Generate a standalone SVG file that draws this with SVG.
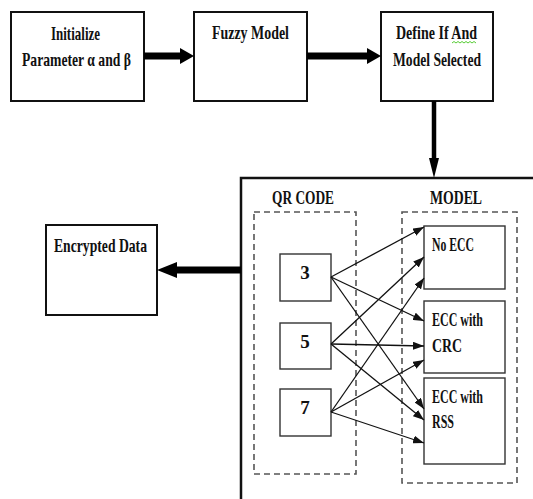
<svg xmlns="http://www.w3.org/2000/svg" width="533" height="499" viewBox="0 0 533 499">
<style>
text{font-family:"Liberation Serif","Times New Roman",serif;font-weight:bold;font-size:19px;fill:#111;lengthAdjust:spacingAndGlyphs}
.box{fill:#fff;stroke:#111;stroke-width:2}
.sbox{fill:#fff;stroke:#333;stroke-width:1.4}
.dash{fill:none;stroke:#555;stroke-width:1.6;stroke-dasharray:6 4}
.thin{fill:none;stroke:#111;stroke-width:1.3;marker-end:url(#ah)}
.thick{stroke:#000;stroke-width:7}
.head{fill:#000}
.mid{text-anchor:middle}
</style>
<defs>
<marker id="ah" markerUnits="userSpaceOnUse" markerWidth="11" markerHeight="8" refX="11" refY="4" orient="auto">
<path d="M0,0 L11,4 L0,8 z" fill="#111"/>
</marker>
</defs>

<g id="panel">
<path d="M241,505 L241,178 L540,178" fill="none" stroke="#111" stroke-width="2.5"/>
</g>

<g id="init">
<rect class="box" x="11" y="12" width="133" height="89"/>
<text x="51" y="40" textLength="49" lengthAdjust="spacingAndGlyphs">Initialize</text>
<text x="22" y="66" textLength="109" lengthAdjust="spacingAndGlyphs">Parameter α and β</text>
</g>

<g id="fuzzy">
<rect class="box" x="194" y="12" width="113" height="89"/>
<text x="212" y="39" textLength="77" lengthAdjust="spacingAndGlyphs">Fuzzy Model</text>
</g>

<g id="define">
<rect class="box" x="381" y="12" width="112" height="89"/>
<text x="396" y="39" textLength="81" lengthAdjust="spacingAndGlyphs">Define If And</text>
<path d="M452,43 l2,-1.5 l2,1.5 l2,-1.5 l2,1.5 l2,-1.5 l2,1.5 l2,-1.5 l2,1.5 l2,-1.5 l2,1.5 l2,-1.5 l2,1.5" fill="none" stroke="#5c3" stroke-width="1"/>
<text x="393" y="66" textLength="88" lengthAdjust="spacingAndGlyphs">Model Selected</text>
</g>

<g id="encrypted">
<rect class="box" x="46" y="225" width="111" height="90"/>
<text x="54" y="252" textLength="93" lengthAdjust="spacingAndGlyphs">Encrypted Data</text>
</g>

<g id="qrcode">
<rect class="dash" x="254" y="212" width="102" height="262"/>
<text x="272" y="204" textLength="62" lengthAdjust="spacingAndGlyphs">QR CODE</text>
</g>

<g id="model">
<rect class="dash" x="402" y="212" width="115" height="271"/>
<text x="430" y="204" textLength="52" lengthAdjust="spacingAndGlyphs">MODEL</text>
</g>

<g id="qr3">
<rect class="sbox" x="280" y="254" width="51" height="47"/>
<text class="mid" x="305" y="279" font-size="18">3</text>
</g>
<g id="qr5">
<rect class="sbox" x="280" y="323" width="51" height="46"/>
<text class="mid" x="305" y="348" font-size="18">5</text>
</g>
<g id="qr7">
<rect class="sbox" x="280" y="389" width="51" height="47"/>
<text class="mid" x="305" y="414" font-size="18">7</text>
</g>

<g id="noecc">
<rect class="sbox" x="424" y="226" width="81" height="63"/>
<text x="432" y="251" textLength="42" lengthAdjust="spacingAndGlyphs">No ECC</text>
</g>
<g id="crc">
<rect class="sbox" x="424" y="301" width="81" height="72"/>
<text x="432" y="326" textLength="51" lengthAdjust="spacingAndGlyphs">ECC with</text>
<text x="432" y="352" font-size="22" textLength="30" lengthAdjust="spacingAndGlyphs">CRC</text>
</g>
<g id="rss">
<rect class="sbox" x="424" y="378" width="81" height="86"/>
<text x="432" y="403" textLength="51" lengthAdjust="spacingAndGlyphs">ECC with</text>
<text x="432" y="428" font-size="18" textLength="22" lengthAdjust="spacingAndGlyphs">RSS</text>
</g>

<g id="connectors">
<line class="thick" x1="144" y1="56" x2="181" y2="56"/>
<polygon class="head" points="180,48 194,56 180,64"/>
<line class="thick" x1="307" y1="56" x2="368" y2="56"/>
<polygon class="head" points="367,48 381,56 367,64"/>
<line x1="434" y1="101" x2="434" y2="160" stroke="#000" stroke-width="4.5"/>
<polygon class="head" points="429,158 434,178 439,158"/>
<line class="thick" x1="241" y1="270" x2="176" y2="270"/>
<polygon class="head" points="177,262 157,270 177,278"/>

<line class="thin" x1="331" y1="277" x2="424" y2="227"/>
<line class="thin" x1="331" y1="277" x2="424" y2="321"/>
<line class="thin" x1="331" y1="277" x2="424" y2="409"/>
<line class="thin" x1="331" y1="344" x2="424" y2="257"/>
<line class="thin" x1="331" y1="344" x2="424" y2="346"/>
<line class="thin" x1="331" y1="344" x2="424" y2="420"/>
<line class="thin" x1="331" y1="412" x2="424" y2="278"/>
<line class="thin" x1="331" y1="412" x2="424" y2="360"/>
<line class="thin" x1="331" y1="412" x2="424" y2="443"/>
</g>
</svg>
